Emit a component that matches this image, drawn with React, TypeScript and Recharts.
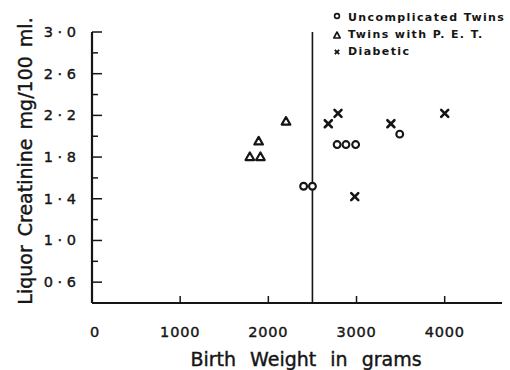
import React from 'react';
import { ScatterChart, Scatter, XAxis, YAxis, ReferenceLine, Legend } from 'recharts';

const uncomplicatedTwins = [
  { weight: 2400, creatinine: 1.52 },
  { weight: 2500, creatinine: 1.52 },
  { weight: 2780, creatinine: 1.92 },
  { weight: 2880, creatinine: 1.92 },
  { weight: 2990, creatinine: 1.92 },
  { weight: 3490, creatinine: 2.02 },
];
const twinsWithPET = [
  { weight: 1790, creatinine: 1.8 },
  { weight: 1910, creatinine: 1.8 },
  { weight: 1890, creatinine: 1.95 },
  { weight: 2200, creatinine: 2.14 },
];
const diabetic = [
  { weight: 2680, creatinine: 2.12 },
  { weight: 2790, creatinine: 2.22 },
  { weight: 3390, creatinine: 2.12 },
  { weight: 4000, creatinine: 2.22 },
  { weight: 2980, creatinine: 1.42 },
];
const xTicks = [0, 1000, 2000, 3000, 4000];
const yTicks = [0.6, 0.8, 1.0, 1.2, 1.4, 1.6, 1.8, 2.0, 2.2, 2.4, 2.6, 2.8, 3.0];
const yMajor = [0.6, 1.0, 1.4, 1.8, 2.2, 2.6, 3.0];
const legendItems = ['Uncomplicated Twins', 'Twins with P. E. T.', 'Diabetic'];
const xTitle = 'Birth Weight in grams';
const yTitle = 'Liquor Creatinine mg/100 ml.';
const cutoffWeight = 2500;

const INK = '#151515';
const FONT = '"DejaVu Sans", sans-serif';

const CircleShape = (p: any) => (
  <circle cx={p.cx} cy={p.cy} r={3.4} fill="#fff" stroke={INK} strokeWidth={2.1} />
);
const TriangleShape = (p: any) => {
  const { cx, cy } = p;
  const pts = `${cx},${cy - 4.6} ${cx - 4.3},${cy + 3} ${cx + 4.3},${cy + 3}`;
  return <polygon points={pts} fill="#fff" stroke={INK} strokeWidth={2.2} strokeLinejoin="round" />;
};
const CrossShape = (p: any) => {
  const { cx, cy } = p;
  const d = 3.5;
  return (
    <g stroke={INK} strokeWidth={2.6} strokeLinecap="round">
      <line x1={cx - d} y1={cy - d} x2={cx + d} y2={cy + d} />
      <line x1={cx - d} y1={cy + d} x2={cx + d} y2={cy - d} />
    </g>
  );
};

const YTick = (props: any) => {
  const { x, y, payload } = props;
  const v = payload.value;
  const major = yMajor.some((m) => Math.abs(m - v) < 1e-6);
  const label = v.toFixed(1).replace('.', ' · ');
  return (
    <g>
      <line x1={x} y1={y} x2={x + (major ? 10 : 6)} y2={y} stroke={INK} strokeWidth={1.5} />
      {major && (
        <text x={x - 16} y={y + 5} textAnchor="end" fontFamily={FONT} fontSize={14.5} fill={INK} stroke={INK} strokeWidth={0.4}>
          {label}
        </text>
      )}
    </g>
  );
};

const XTick = (props: any) => {
  const { x, y, payload } = props;
  const v = payload.value;
  return (
    <g>
      {v !== 0 && <line x1={x} y1={y} x2={x} y2={y - 7} stroke={INK} strokeWidth={1.5} />}
      <text x={v === 0 ? x + 3 : x} y={y + 34} textAnchor="middle" fontFamily={FONT} fontSize={14.5} letterSpacing={0.8} fill={INK} stroke={INK} strokeWidth={0.4}>
        {v}
      </text>
    </g>
  );
};

const LegendContent = () => {
  const symbols = [
    <circle key="c" cx={6} cy={4} r={2.4} fill="#fff" stroke={INK} strokeWidth={1.6} />,
    <polygon key="t" points="6,3 2.8,9 9.2,9" fill="#fff" stroke={INK} strokeWidth={1.6} strokeLinejoin="round" />,
    <g key="x" stroke={INK} strokeWidth={1.8}>
      <line x1={3.8} y1={3.8} x2={8.2} y2={8.2} />
      <line x1={3.8} y1={8.2} x2={8.2} y2={3.8} />
    </g>,
  ];
  return (
    <div style={{ fontFamily: FONT }}>
      {legendItems.map((t, i) => (
        <div key={t} style={{ display: 'flex', alignItems: 'center', height: 17 }}>
          <svg width={12} height={12} style={{ marginRight: 5 }}>
            {symbols[i]}
          </svg>
          <span style={{ fontSize: 11, fontWeight: 'bold', letterSpacing: 1.4, color: INK, whiteSpace: 'nowrap', lineHeight: '17px' }}>
            {t}
          </span>
        </div>
      ))}
    </div>
  );
};

export default function App() {
  return (
    <div style={{ position: 'absolute', left: 0, top: 0, width: 510, height: 370, background: '#fff', overflow: 'hidden' }}>
      <ScatterChart width={510} height={370} margin={{ top: 32, right: 8, left: 0, bottom: 0 }}>
        <XAxis
          type="number"
          dataKey="weight"
          domain={[0, 4650]}
          ticks={xTicks}
          interval={0}
          tickSize={0}
          tickMargin={0}
          height={67}
          axisLine={{ stroke: INK, strokeWidth: 2.2 }}
          tickLine={false}
          tick={<XTick />}
        />
        <YAxis
          type="number"
          dataKey="creatinine"
          domain={[0.4, 3.0]}
          ticks={yTicks}
          interval={0}
          tickSize={0}
          tickMargin={0}
          width={92}
          axisLine={{ stroke: INK, strokeWidth: 2.2 }}
          tickLine={false}
          tick={<YTick />}
        />
        <ReferenceLine x={cutoffWeight} stroke={INK} strokeWidth={1.6} />
        <Scatter name="Uncomplicated Twins" data={uncomplicatedTwins} shape={CircleShape} isAnimationActive={false} />
        <Scatter name="Twins with P. E. T." data={twinsWithPET} shape={TriangleShape} isAnimationActive={false} />
        <Scatter name="Diabetic" data={diabetic} shape={CrossShape} isAnimationActive={false} />
        <Legend
          layout="vertical"
          align="center"
          verticalAlign="middle"
          content={<LegendContent />}
          wrapperStyle={{ position: 'absolute', left: 331, top: 9, width: 'auto' }}
        />
        <text x={306} y={366} textAnchor="middle" fontFamily={FONT} fontSize={19} wordSpacing={8} fill={INK} stroke={INK} strokeWidth={0.4}>
          {xTitle}
        </text>
        <text x={32} y={161} transform="rotate(-90, 32, 161)" textAnchor="middle" fontFamily={FONT} fontSize={19} wordSpacing={3} fill={INK} stroke={INK} strokeWidth={0.4}>
          {yTitle}
        </text>
      </ScatterChart>
    </div>
  );
}
